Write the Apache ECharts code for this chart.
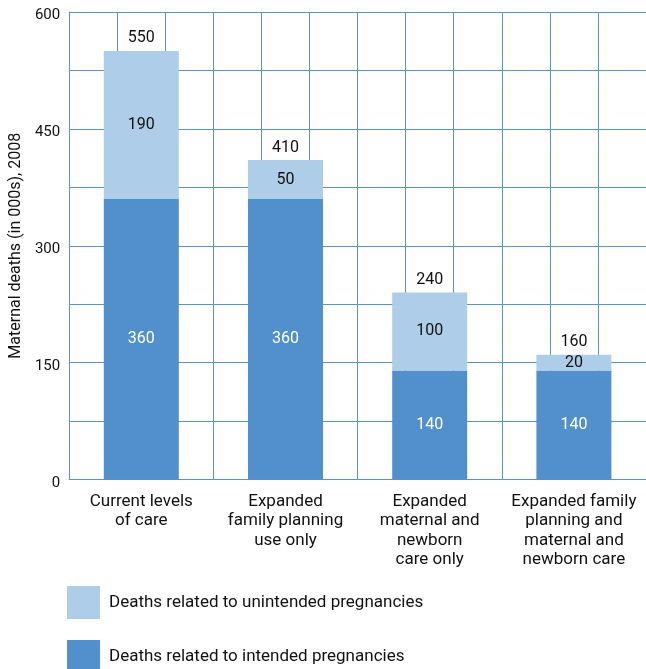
<!DOCTYPE html>
<html>
<head>
<meta charset="utf-8">
<script src="https://cdn.jsdelivr.net/npm/echarts@6/dist/echarts.min.js"></script>
<style>html,body{margin:0;padding:0;background:#fff;}#c{width:646px;height:669px;}</style>
</head>
<body>
<div id="c"></div>
<script>
const categories = ['Current levels\nof care', 'Expanded\nfamily planning\nuse only', 'Expanded\nmaternal and\nnewborn\ncare only', 'Expanded family\nplanning and\nmaternal and\nnewborn care'];
const intended = [360, 360, 140, 140];
const unintended = [190, 50, 100, 20];
const totals = [550, 410, 240, 160];
const yTicks = [0, 150, 300, 450, 600];
const seriesNames = ['Deaths related to intended pregnancies', 'Deaths related to unintended pregnancies'];

const FONT = 'Roboto, "Liberation Sans", sans-serif';
const lightC = '#aecde8';
const darkC = '#5190cd';
const gridC = '#5b93d2';

const legendBase = {
  orient: 'vertical', left: 67, itemWidth: 33, itemHeight: 33, padding: 0,
  icon: 'rect', selectedMode: false,
  textStyle: {fontSize: 17, color: '#111', fontFamily: FONT, padding: [0, 0, 0, 4]}
};

const chart = echarts.init(document.getElementById('c'), null, {renderer: 'canvas'});
chart.setOption({
  animation: false,
  textStyle: {fontFamily: FONT},
  grid: {left: 67.5, right: -6, top: 12, bottom: 189.5, containLabel: false},
  legend: [
    Object.assign({}, legendBase, {top: 586, data: [seriesNames[1]]}),
    Object.assign({}, legendBase, {top: 640, data: [seriesNames[0]]})
  ],
  xAxis: [{
    type: 'category', data: categories,
    axisLine: {lineStyle: {color: gridC, width: 1}},
    axisTick: {show: false},
    axisLabel: {fontSize: 17, lineHeight: 19.5, color: '#111', margin: 12, interval: 0, fontFamily: FONT},
    splitLine: {show: false}
  }, {
    type: 'value', min: 0, max: 12, interval: 1, position: 'bottom',
    axisLine: {show: false}, axisTick: {show: false}, axisLabel: {show: false},
    splitLine: {show: true, lineStyle: {color: gridC, width: 1}}
  }],
  yAxis: {
    type: 'value', min: 0, max: 600, interval: 75,
    name: 'Maternal deaths (in 000s), 2008', nameLocation: 'middle', nameGap: 40,
    nameTextStyle: {fontSize: 16, color: '#111', fontFamily: FONT},
    axisLine: {show: true, lineStyle: {color: gridC}},
    axisTick: {show: false},
    axisLabel: {fontSize: 15, lineHeight: 7, color: '#111', margin: 9, fontFamily: FONT,
      formatter: v => yTicks.indexOf(v) >= 0 ? '\n' + String(v) : ''},
    splitLine: {show: true, lineStyle: {color: gridC, width: 1}}
  },
  series: [{
    name: seriesNames[0], type: 'bar', stack: 's', barWidth: 75, data: intended,
    itemStyle: {color: darkC},
    label: {show: true, position: 'inside', color: '#fff', fontSize: 16, fontFamily: FONT}
  }, {
    name: seriesNames[1], type: 'bar', stack: 's', barWidth: 75, data: unintended,
    itemStyle: {color: lightC},
    label: {show: true, position: 'inside', color: '#111', fontSize: 16, fontFamily: FONT}
  }, {
    name: 'total', type: 'scatter', data: totals, symbolSize: 1, silent: true,
    itemStyle: {opacity: 0},
    label: {show: true, position: 'top', distance: 4, color: '#111', opacity: 1, fontSize: 16, fontFamily: FONT,
      backgroundColor: '#fff', padding: [1, 4, 0, 4]}
  }]
});
</script>
</body>
</html>
